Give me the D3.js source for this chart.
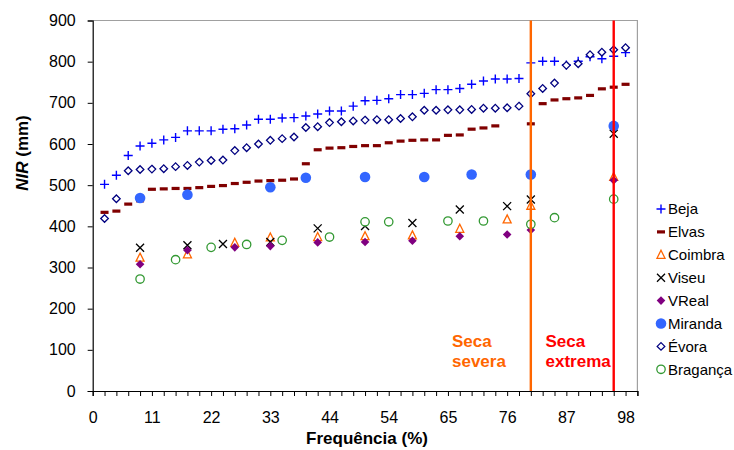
<!DOCTYPE html>
<html>
<head>
<meta charset="utf-8">
<script src="https://cdn.jsdelivr.net/npm/d3@7/dist/d3.min.js"></script>
<style>
  html, body { margin: 0; padding: 0; background: #fff; }
  svg { display: block; font-family: "Liberation Sans", Arial, sans-serif; }
</style>
</head>
<body>
<svg id="chart" width="734" height="450"></svg>
<script>
// ---------------- DATA ----------------
const xTickLabels = ["0", "11", "22", "33", "44", "54", "65", "76", "87", "98"];
const nIntervals = 46;           // category slots 0..46
const yTicks = [0, 100, 200, 300, 400, 500, 600, 700, 800, 900];

// Dense series: categories 1..45
const bejaValues = [502, 524, 572, 595, 602, 610, 616, 632, 632, 632, 636, 637, 646, 660, 660,
  663, 664, 668, 673, 680, 680, 692, 705, 706, 710, 720, 720, 723, 732, 732,
  735, 745, 753, 758, 758, 759, 797, 801, 801, 792, 801, 812, 807, 813, 822];
const elvasValues = [434, 437, 454, 462, 490, 491, 492, 492, 494, 497, 499, 504, 507, 510, 511,
  512, 515, 552, 586, 590, 591, 594, 596, 596, 603, 607, 609, 610, 610, 621,
  622, 636, 639, 644, null, null, 649, 698, 707, 710, 712, 718, 734, 738, 745];
const evoraValues = [419, 467, 535, 538, 539, 540, 545, 548, 556, 560, 561, 584, 591, 600, 609,
  613, 617, 640, 642, 652, 654, 656, 658, 659, 659, 662, 666, 682, 682, 683,
  683, 684, 687, 687, 688, 692, 722, 735, 748, 791, 795, 817, 823, 829, 834];

// Sparse series: category index + value
const coimbraCats = [4, 8, 12, 15, 19, 23, 27, 31, 35, 37, 44];
const coimbraValues = [324, 332, 360, 373, 374, 376, 378, 394, 417, 450, 520];
const viseuCats = [4, 8, 11, 15, 19, 23, 27, 31, 35, 37, 44];
const viseuValues = [348, 354, 357, 362, 395, 401, 408, 441, 449, 465, 625];
const vrealCats = [4, 8, 12, 15, 19, 23, 27, 31, 35, 37, 44];
const vrealValues = [308, 342, 349, 352, 361, 362, 365, 376, 380, 391, 512];
const mirandaCats = [4, 8, 15, 18, 23, 28, 32, 37, 44];
const mirandaValues = [469, 477, 495, 518, 520, 520, 526, 526, 644];
const bragancaCats = [4, 7, 10, 13, 16, 20, 23, 25, 30, 33, 37, 39, 44];
const bragancaValues = [272, 319, 349, 356, 366, 374, 411, 411, 413, 413, 405, 421, 466];

const seriesNames = ["Beja", "Elvas", "Coimbra", "Viseu", "VReal", "Miranda", "Évora", "Bragança"];

// Drought thresholds (category index) and labels
const thresholdCats = [37, 44];
const thresholdLabels = [["Seca", "severa"], ["Seca", "extrema"]];

// ---------------- LAYOUT ----------------
const svg = d3.select("#chart");
const plotL = 92.7, plotR = 637.4, plotT = 20.5, plotB = 391;
const x = d3.scaleLinear().domain([0, nIntervals]).range([plotL, plotR]);
const y = d3.scaleLinear().domain([0, 900]).range([plotB, plotT]);

function toPoints(cats, vals) {
  return cats.map((c, i) => ({ k: c, v: vals[i] })).filter(d => d.v != null);
}
const dense = vals => toPoints(vals.map((_, i) => i + 1), vals);

const colors = {
  Beja: "#0000FF", Elvas: "#800000", Coimbra: "#FF6600", Viseu: "#000000",
  VReal: "#800080", Miranda: "#3366FF", "Évora": "#000080", "Bragança": "#339933"
};

// marker renderers
function drawMarker(g, name, cx, cy) {
  const c = colors[name];
  switch (name) {
    case "Beja":
      g.append("path").attr("d", `M${cx-4.5},${cy}H${cx+4.5}M${cx},${cy-4.5}V${cy+4.5}`)
        .attr("stroke", c).attr("stroke-width", 1.4).attr("fill", "none");
      break;
    case "Elvas":
      g.append("rect").attr("x", cx - 4).attr("y", cy - 1.6).attr("width", 8).attr("height", 3.2).attr("fill", c);
      break;
    case "Coimbra":
      g.append("path").attr("d", `M${cx},${cy-4.5}L${cx+4},${cy+3.5}L${cx-4},${cy+3.5}Z`)
        .attr("stroke", c).attr("stroke-width", 1.3).attr("fill", "#fff");
      break;
    case "Viseu":
      g.append("path").attr("d", `M${cx-4},${cy-4}L${cx+4},${cy+4}M${cx-4},${cy+4}L${cx+4},${cy-4}`)
        .attr("stroke", c).attr("stroke-width", 1.3).attr("fill", "none");
      break;
    case "VReal":
      g.append("path").attr("d", `M${cx},${cy-4.3}L${cx+4.3},${cy}L${cx},${cy+4.3}L${cx-4.3},${cy}Z`)
        .attr("fill", c);
      break;
    case "Miranda":
      g.append("circle").attr("cx", cx).attr("cy", cy).attr("r", 5.3).attr("fill", c);
      break;
    case "Évora":
      g.append("path").attr("d", `M${cx},${cy-3.8}L${cx+3.8},${cy}L${cx},${cy+3.8}L${cx-3.8},${cy}Z`)
        .attr("stroke", c).attr("stroke-width", 1.3).attr("fill", "#fff");
      break;
    case "Bragança":
      g.append("circle").attr("cx", cx).attr("cy", cy).attr("r", 4.2)
        .attr("stroke", c).attr("stroke-width", 1.3).attr("fill", "#fff");
      break;
  }
}

// plot area border (top & right)
svg.append("path")
  .attr("d", `M${plotL},${plotT}H${plotR}V${plotB}`)
  .attr("fill", "none").attr("stroke", "#a0a0a0").attr("stroke-width", 1.2);

// axes
const xAxis = d3.axisBottom(x)
  .tickValues(d3.range(0, nIntervals + 1))
  .tickSize(5).tickPadding(15.5)
  .tickFormat(k => (k % 5 === 0 && k / 5 < xTickLabels.length) ? xTickLabels[k / 5] : "");
const gx = svg.append("g").attr("transform", `translate(0,${plotB})`).call(xAxis);
gx.select(".domain").attr("stroke", "#000").attr("stroke-width", 1.2);
gx.selectAll(".tick line").attr("stroke", "#000");
gx.selectAll("text").attr("font-size", 16).attr("fill", "#000").attr("font-family", "Liberation Sans, Arial, sans-serif");

const yAxis = d3.axisLeft(y).tickValues(yTicks).tickSize(5).tickPadding(12);
const gy = svg.append("g").attr("transform", `translate(${plotL},0)`).call(yAxis);
gy.select(".domain").attr("stroke", "#000").attr("stroke-width", 1.2);
gy.selectAll(".tick line").attr("stroke", "#000");
gy.selectAll("text").attr("font-size", 16).attr("fill", "#000").attr("font-family", "Liberation Sans, Arial, sans-serif");

// series
const seriesPoints = {
  "Beja": dense(bejaValues),
  "Elvas": dense(elvasValues),
  "Coimbra": toPoints(coimbraCats, coimbraValues),
  "Viseu": toPoints(viseuCats, viseuValues),
  "VReal": toPoints(vrealCats, vrealValues),
  "Miranda": toPoints(mirandaCats, mirandaValues),
  "Évora": dense(evoraValues),
  "Bragança": toPoints(bragancaCats, bragancaValues)
};
const gMarks = svg.append("g");
seriesNames.forEach(name => {
  const g = gMarks.append("g").attr("class", "series");
  seriesPoints[name].forEach(d => drawMarker(g, name, x(d.k), y(d.v)));
});

// threshold lines + labels
const thrColors = ["#FF6600", "#FF0000"];
svg.append("g").selectAll("line").data(thresholdCats).join("line")
  .attr("x1", d => x(d)).attr("x2", d => x(d))
  .attr("y1", plotT).attr("y2", plotB)
  .attr("stroke", (d, i) => thrColors[i]).attr("stroke-width", 2.4);

const labelX = [452, 545.5];
thresholdLabels.forEach((lines, i) => {
  const t = svg.append("text").attr("x", labelX[i]).attr("y", 346.5)
    .attr("font-size", 17).attr("font-weight", "bold").attr("fill", thrColors[i]);
  lines.forEach((s, j) => t.append("tspan").attr("x", labelX[i]).attr("dy", j === 0 ? 0 : 20.5).text(s));
});

// axis titles
svg.append("text").attr("x", 367).attr("y", 444)
  .attr("text-anchor", "middle").attr("font-size", 17).attr("font-weight", "bold")
  .text("Frequência (%)");

const yt = svg.append("text").attr("transform", "translate(28,153) rotate(-90)")
  .attr("text-anchor", "middle").attr("font-size", 17).attr("font-weight", "bold");
yt.append("tspan").attr("font-style", "italic").text("NIR");
yt.append("tspan").text(" (mm)");

// legend
const legY0 = 209, legStep = 22.9, legMX = 661, legTX = 668;
const gl = svg.append("g");
seriesNames.forEach((name, i) => {
  const cy = legY0 + i * legStep;
  drawMarker(gl, name, legMX, cy);
  gl.append("text").attr("x", legTX).attr("y", cy + 5.3)
    .attr("font-size", 15).attr("fill", "#000").text(name);
});
</script>
</body>
</html>
